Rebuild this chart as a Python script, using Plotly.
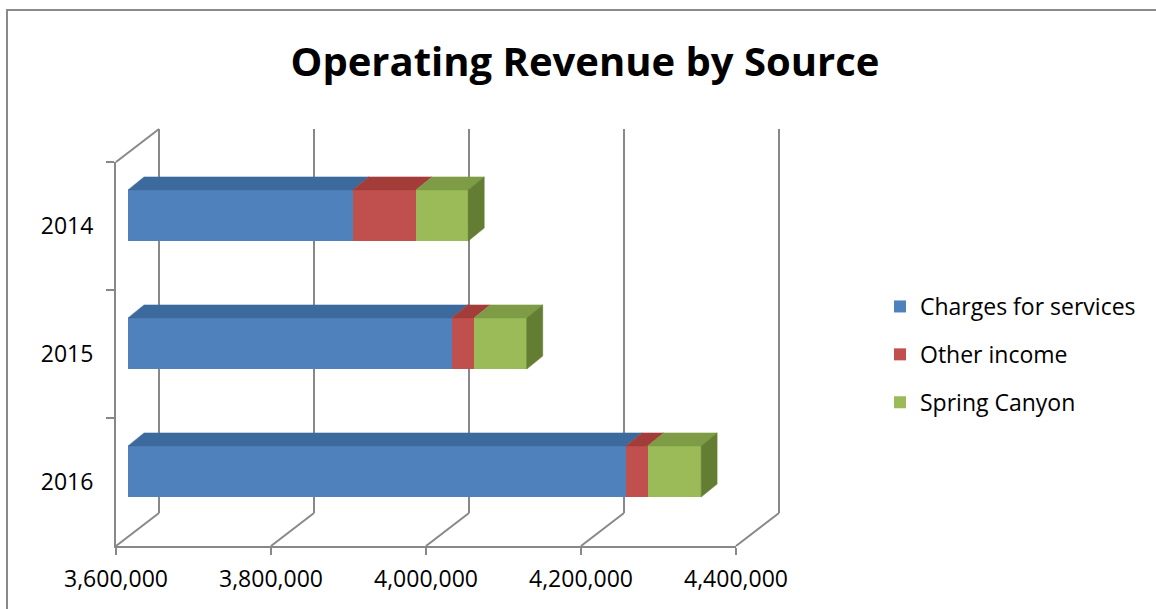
import plotly.graph_objects as go

# ---------------- data ----------------
years = ["2014", "2015", "2016"]
charges_for_services = [3890000, 4017500, 4242500]
other_income = [81500, 29000, 28000]
spring_canyon = [67500, 68000, 69000]
series_names = ["Charges for services", "Other income", "Spring Canyon"]
x_ticks = [3600000, 3800000, 4000000, 4200000, 4400000]
x_tick_labels = ["3,600,000", "3,800,000", "4,000,000", "4,200,000", "4,400,000"]

# ---------------- styling ----------------
W, H = 1156, 609
FONT = "Open Sans, Lato, sans-serif"
front_cols = ["#4F81BD", "#C0504D", "#9BBB59"]
top_cols = ["#3D6A9C", "#A23D3A", "#7E9C45"]
side_cols = ["#3A5F8C", "#8E3431", "#637E33"]
LINE = "#888888"
LW = 2

def px(x):
    return x / W

def py(y):
    return 1 - y / H

XR = [x_ticks[0], x_ticks[-1]]
# pixel geometry of the pseudo 3D box
FRONT_X0, FRONT_X1 = 116, 736
FRONT_Y0, FRONT_Y1 = 162, 546
DEPTH_X, DEPTH_Y = 43, 33
BAR_X0 = 128
BAR_Y0 = 151.5
BAR_DX, BAR_DY = 16, 13
bar_px_w = FRONT_X1 - FRONT_X0
per_px = (XR[1] - XR[0]) / bar_px_w
PAD = 3  # px padding so edge gridlines stay inside the back-wall plot area

fig = go.Figure()

# back wall (gridlines) subplot: x / y
fig.add_trace(go.Scatter(x=[x_ticks[0]], y=[0.5], mode="markers",
                         marker=dict(opacity=0), hoverinfo="skip",
                         showlegend=False, xaxis="x", yaxis="y"))

# bars subplot: x2 / y2
idx = list(range(len(years)))
series = [charges_for_services, other_income, spring_canyon]
for name, vals, col in zip(series_names, series, front_cols):
    fig.add_trace(go.Bar(y=idx, x=vals, orientation="h", name=name,
                         marker=dict(color=col, line=dict(width=0)),
                         width=0.4, xaxis="x2", yaxis="y2",
                         legendgroup=name, hoverinfo="x+name"))

# 3D faces (computed from data through axis x2/y2 scale)
dx_data = BAR_DX * per_px
dy_data = BAR_DY / 128.0
for i in idx:
    base = XR[0]
    segs = [charges_for_services[i], other_income[i], spring_canyon[i]]
    start = 0
    for k, v in enumerate(segs):
        a = max(start, base)
        b = start + v
        yt = i - 0.2
        fig.add_trace(go.Scatter(
            x=[a, b, b + dx_data, a + dx_data, a],
            y=[yt, yt, yt - dy_data, yt - dy_data, yt],
            fill="toself", fillcolor=top_cols[k], mode="lines",
            line=dict(width=0.5, color=top_cols[k]), hoverinfo="skip",
            showlegend=False, xaxis="x2", yaxis="y2"))
        start = b
    end = start
    yt, yb = i - 0.2, i + 0.2
    fig.add_trace(go.Scatter(
        x=[end, end + dx_data, end + dx_data, end, end],
        y=[yt, yt - dy_data, yb - dy_data, yb, yt],
        fill="toself", fillcolor=side_cols[2], mode="lines",
        line=dict(width=0.5, color=side_cols[2]), hoverinfo="skip",
        showlegend=False, xaxis="x2", yaxis="y2"))

# front axes subplot: x3 / y3
fig.add_trace(go.Scatter(x=[x_ticks[0]] * 3, y=years, mode="markers",
                         marker=dict(opacity=0), hoverinfo="skip",
                         showlegend=False, xaxis="x3", yaxis="y3"))

# frame lines (paper)
shapes = []
shapes.append(dict(type="line", xref="paper", yref="paper",
                   x0=px(FRONT_X0), y0=py(FRONT_Y0),
                   x1=px(FRONT_X0 + DEPTH_X), y1=py(FRONT_Y0 - DEPTH_Y),
                   line=dict(color=LINE, width=LW)))
for t in x_ticks:
    fx = FRONT_X0 + (t - XR[0]) / per_px
    shapes.append(dict(type="line", xref="paper", yref="paper",
                       x0=px(fx), y0=py(FRONT_Y1),
                       x1=px(fx + DEPTH_X), y1=py(FRONT_Y1 - DEPTH_Y),
                       line=dict(color=LINE, width=LW)))
shapes.append(dict(type="rect", xref="paper", yref="paper",
                   x0=px(7), y0=py(10), x1=px(1170), y1=py(630),
                   line=dict(color="#8A8A8A", width=2)))

fig.update_layout(
    width=W, height=H,
    margin=dict(l=0, r=0, t=0, b=0, pad=0, autoexpand=False),
    paper_bgcolor="white", plot_bgcolor="rgba(0,0,0,0)",
    barmode="stack",
    font=dict(family=FONT, color="black", size=23),
    title=dict(text="<b>Operating Revenue by Source</b>",
               x=px(585), xanchor="center", y=py(62), yanchor="middle",
               font=dict(family=FONT, size=40, color="black")),
    showlegend=True,
    legend=dict(x=px(880), y=py(285), xanchor="left", yanchor="top",
                traceorder="grouped", tracegroupgap=15,
                font=dict(family=FONT, size=23, color="black"),
                bgcolor="rgba(0,0,0,0)"),
    shapes=shapes,
    # back wall
    xaxis=dict(domain=[px(FRONT_X0 + DEPTH_X - PAD), px(FRONT_X1 + DEPTH_X + PAD)],
               range=[XR[0] - PAD * per_px, XR[1] + PAD * per_px],
               tickvals=x_ticks, showticklabels=False,
               showgrid=True, gridcolor=LINE, gridwidth=LW,
               zeroline=False, showline=False, ticks="", anchor="y",
               automargin=False, fixedrange=True),
    yaxis=dict(domain=[py(FRONT_Y1 - DEPTH_Y), py(FRONT_Y0 - DEPTH_Y)],
               range=[0, 1], showgrid=False, zeroline=False,
               showticklabels=False, showline=False, anchor="x",
               automargin=False, fixedrange=True),
    # bars
    xaxis2=dict(domain=[px(BAR_X0), px(BAR_X0 + bar_px_w)], range=XR,
                visible=False, anchor="y2", automargin=False, fixedrange=True),
    yaxis2=dict(domain=[py(BAR_Y0 + 384), py(BAR_Y0)], range=[2.5, -0.5],
                visible=False, anchor="x2", automargin=False, fixedrange=True),
    # front axes
    xaxis3=dict(domain=[px(FRONT_X0), px(FRONT_X1)], range=XR,
                tickvals=x_ticks, ticktext=x_tick_labels,
                showgrid=False, zeroline=False, showline=True,
                linecolor=LINE, linewidth=LW, ticks="outside",
                ticklen=7, tickcolor=LINE, tickwidth=LW,
                ticklabelstandoff=4,
                tickfont=dict(family=FONT, size=23, color="black"),
                anchor="y3", automargin=False, fixedrange=True),
    yaxis3=dict(domain=[py(FRONT_Y1), py(FRONT_Y0)], type="category",
                categoryorder="array", categoryarray=years,
                range=[2.5, -0.5], showgrid=False, zeroline=False,
                showline=True, linecolor=LINE, linewidth=LW,
                ticks="outside", tickson="boundaries", ticklen=8,
                tickcolor=LINE, tickwidth=LW, ticklabelstandoff=16,
                tickfont=dict(family=FONT, size=23, color="black"),
                anchor="x3", automargin=False, fixedrange=True),
)

fig.write_html("out.html")
